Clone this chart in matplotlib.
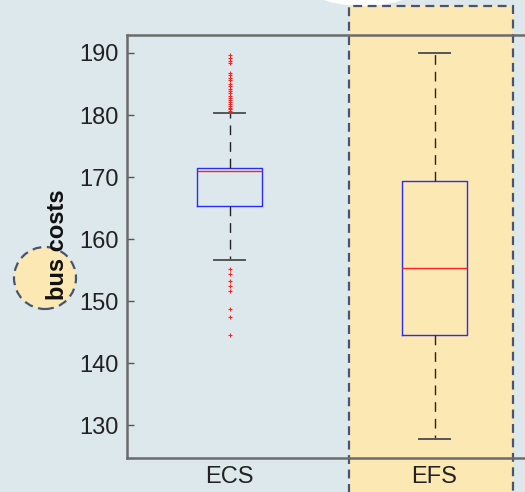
import matplotlib
matplotlib.use("Agg")
import matplotlib.pyplot as plt
from matplotlib.patches import Rectangle, Ellipse

categories = ["ECS", "EFS"]
q1 = [165.4, 144.5]
med = [171.0, 155.4]
q3 = [171.5, 169.3]
whislo = [156.7, 127.8]
whishi = [180.3, 190.0]
ecs_outliers = [189.6, 189.2, 188.7, 188.4, 186.8, 186.4, 186.0, 185.6, 185.0, 184.6,
                184.2, 183.8, 183.5, 183.1, 182.8, 182.4, 182.1, 181.8, 181.5, 181.2,
                180.9, 180.6,
                155.2, 154.3, 153.3, 152.4, 151.6, 148.8, 147.4, 144.6]
efs_outliers = []
yticks = [130, 140, 150, 160, 170, 180, 190]

W, H = 525, 492
fig = plt.figure(figsize=(W / 100, H / 100), dpi=100)
fig.patch.set_facecolor("#dde8ec")

def fx(px):
    return px / W

def fy(py):
    return 1 - py / H

# white blob at top
fig.patches.append(Ellipse((fx(363), fy(-25)), 134 / W, 62 / H, transform=fig.transFigure,
                           facecolor="white", edgecolor="none", zorder=0))
# highlighted column
fig.patches.append(Rectangle((fx(349), fy(500)), (513 - 349) / W, (500 - 6) / H,
                             transform=fig.transFigure, facecolor="#fce8b2",
                             edgecolor="#4a5470", linewidth=1.6, linestyle=(0, (4, 2.5)),
                             zorder=0.5))
# circle around label
fig.patches.append(Ellipse((fx(45), fy(278)), 62 / W, 62 / H, transform=fig.transFigure,
                           facecolor="#fce8b2", edgecolor="#4a5470", linewidth=1.6,
                           linestyle=(0, (4, 2.5)), zorder=0.5))

ax = fig.add_axes([fx(127), fy(458), (537 - 127) / W, (458 - 35) / H])
ax.patch.set_alpha(0)
ax.set_zorder(2)

stats = []
for i, c in enumerate(categories):
    stats.append(dict(label=c, q1=q1[i], med=med[i], q3=q3[i], whislo=whislo[i],
                      whishi=whishi[i], fliers=[ecs_outliers, efs_outliers][i]))

ax.bxp(stats, positions=[1, 2], widths=0.315,
       boxprops=dict(color="#2b2bff", linewidth=1.0),
       medianprops=dict(color="#ff2020", linewidth=1.0),
       whiskerprops=dict(color="#222222", linewidth=1.0, linestyle=(0, (7, 5))),
       capprops=dict(color="#555555", linewidth=1.4),
       flierprops=dict(marker="+", markeredgecolor="#ff2020", markersize=3,
                       markeredgewidth=0.8, linestyle="none"),
       capwidths=0.15)

ax.set_xlim(0.5, 2.5)
ax.set_ylim(124.7, 192.9)
ax.set_yticks(yticks)
ax.set_yticklabels([str(t) for t in yticks], fontsize=17, family="Liberation Sans",
                   color="#222222")
ax.set_xticks([1, 2])
ax.set_xticklabels(categories, fontsize=17, family="Liberation Sans", color="#222222")
ax.tick_params(axis="y", direction="in", length=5, width=1, color="#555555", pad=6)
ax.tick_params(axis="x", length=0, pad=6)
for s in ["left", "top", "bottom"]:
    ax.spines[s].set_color("#6b6b6b")
    ax.spines[s].set_linewidth(1.8)
ax.spines["right"].set_visible(False)

fig.text(fx(57), fy(245), "bus costs", rotation=90, ha="center", va="center",
         fontsize=17, fontweight="bold", family="Liberation Sans", color="#111111",
         zorder=3)

fig.savefig("out.png", dpi=100, facecolor=fig.get_facecolor())
